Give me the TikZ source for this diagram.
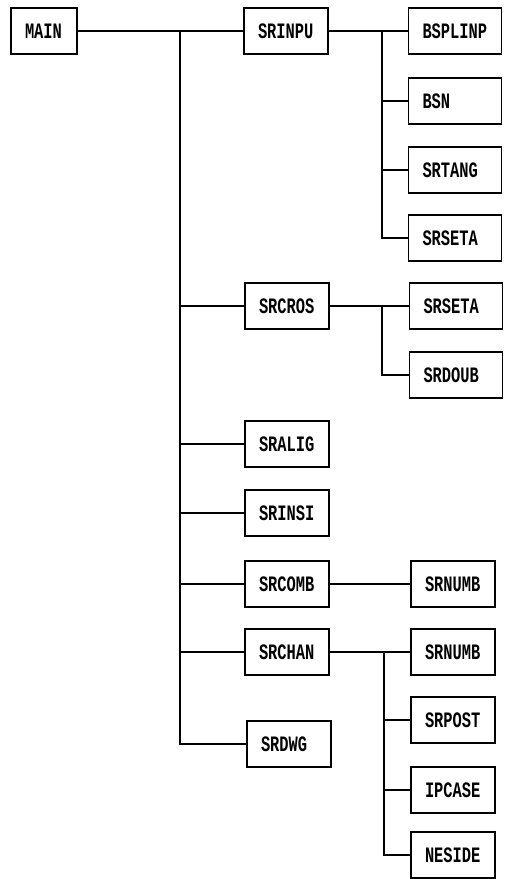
\documentclass[tikz,border=0pt]{standalone}
\usepackage{fontspec}
\newfontfamily\boxfont[FakeStretch=0.7]{Liberation Mono Bold}
\begin{document}
\begin{tikzpicture}[x=1pt,y=-1pt,
  box/.style={draw, line width=1.3pt, minimum height=46pt, inner ysep=0pt,
    inner xsep=14pt, align=left, font=\boxfont\fontsize{22}{22}\selectfont},
  wmain/.style={box, text width=38pt},
  wmid/.style={box, text width=56pt},
  wwide/.style={box, text width=65pt},
  wnarrow/.style={box, text width=56pt},
  link/.style={line width=1.4pt}]
\useasboundingbox (0,0) rectangle (507,879);
% left / middle
\node[wmain] (main) at (44,31) {MAIN};
\node[wmid] (srinpu) at (286,31) {SRINPU};
\node[wmid] (srcros) at (287,306) {SRCROS};
\node[wmid] (sralig) at (287,444) {SRALIG};
\node[wmid] (srinsi) at (287,513) {SRINSI};
\node[wmid] (srcomb) at (287,584) {SRCOMB};
\node[wmid] (srchan) at (287,652) {SRCHAN};
\node[wmid] (srdwg) at (289,744) {SRDWG};
% right column
\node[wwide] (bsplinp) at (455,31) {BSPLINP};
\node[wwide] (bsn) at (455,101) {BSN};
\node[wwide] (srtang) at (455,170) {SRTANG};
\node[wwide] (srseta) at (455,238) {SRSETA};
\node[wwide] (srsetb) at (456,306) {SRSETA};
\node[wwide] (srdoub) at (456,375) {SRDOUB};
\node[wnarrow] (srnumba) at (453,584) {SRNUMB};
\node[wnarrow] (srnumbb) at (453,652) {SRNUMB};
\node[wnarrow] (srpost) at (453,720) {SRPOST};
\node[wnarrow] (ipcase) at (453,790) {IPCASE};
\node[wnarrow] (neside) at (453,855) {NESIDE};
% trunk
\coordinate (t0) at (180,31);
\draw[link] (main.east) -- (srinpu.west);
\draw[link] (t0) |- (srdwg.west);
\foreach \n in {srcros,sralig,srinsi,srcomb,srchan}
  \draw[link] (t0 |- \n.west) -- (\n.west);
% SRINPU branch
\coordinate (b1) at (382,31);
\draw[link] (srinpu.east) -- (bsplinp.west);
\draw[link] (b1) |- (srseta.west);
\foreach \n in {bsn,srtang}
  \draw[link] (b1 |- \n.west) -- (\n.west);
% SRCROS branch
\coordinate (b2) at (382,306);
\draw[link] (srcros.east) -- (srsetb.west);
\draw[link] (b2) |- (srdoub.west);
% SRCOMB
\draw[link] (srcomb.east) -- (srnumba.west);
% SRCHAN branch
\coordinate (b3) at (384,652);
\draw[link] (srchan.east) -- (srnumbb.west);
\draw[link] (b3) |- (neside.west);
\foreach \n in {srpost,ipcase}
  \draw[link] (b3 |- \n.west) -- (\n.west);
\end{tikzpicture}
\end{document}
